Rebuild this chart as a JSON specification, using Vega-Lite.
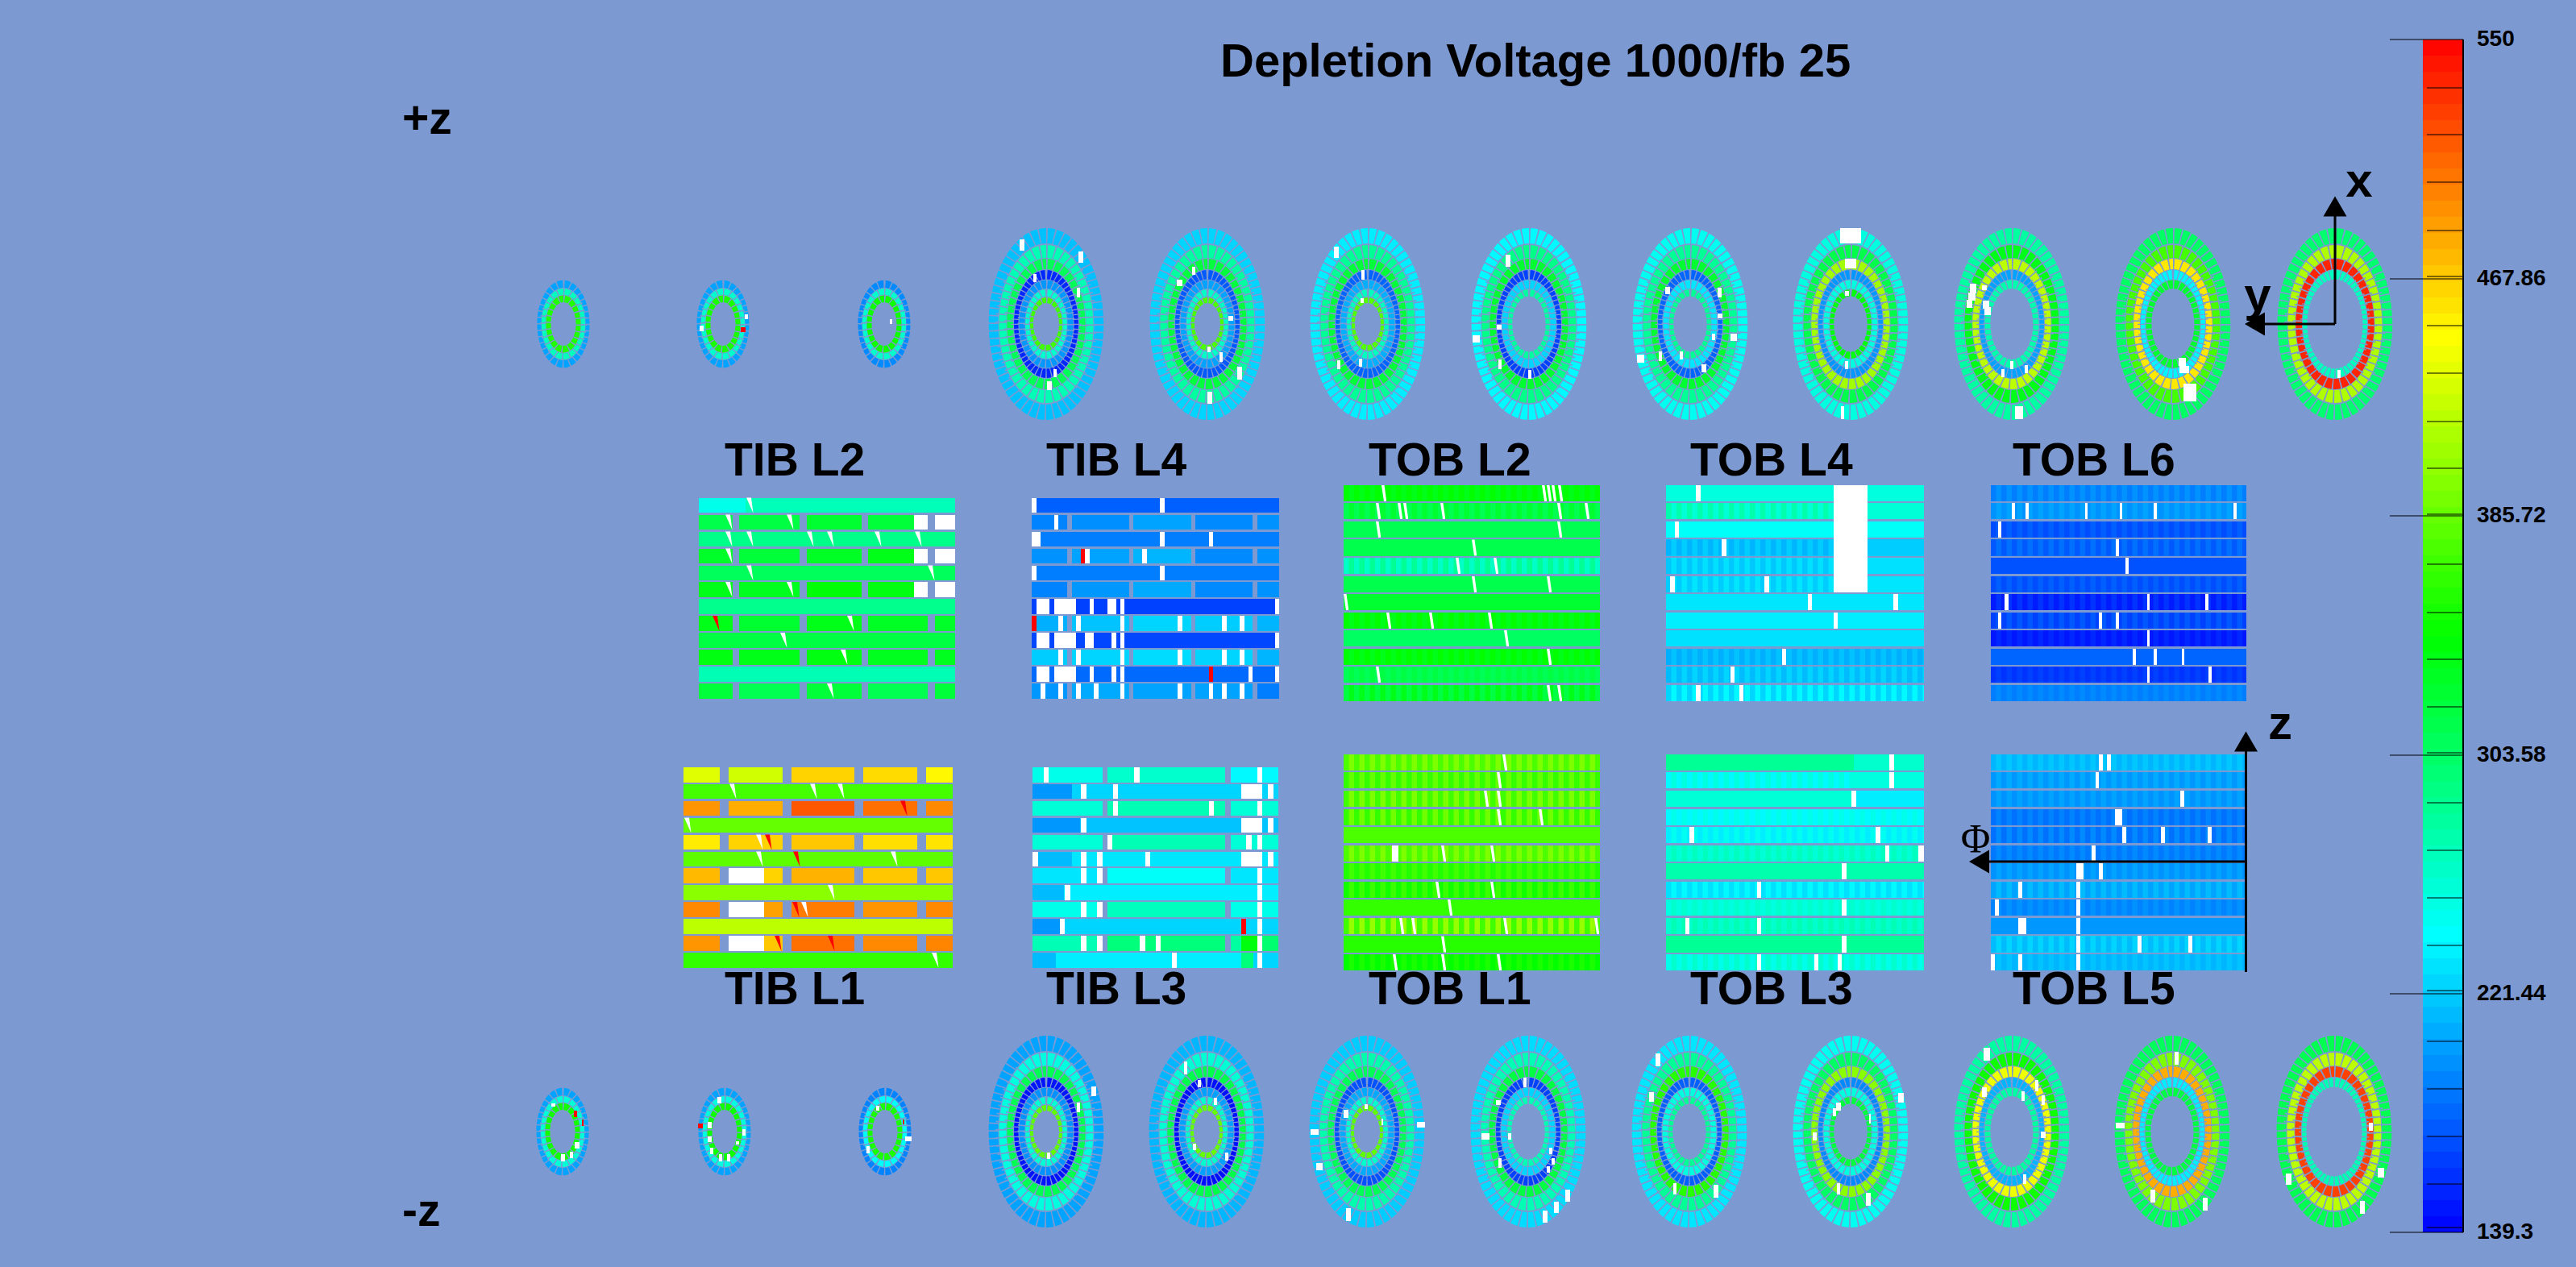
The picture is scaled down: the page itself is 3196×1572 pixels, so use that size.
{"$schema":"https://vega.github.io/schema/vega-lite/v6.json","width":3196,"height":1572,"padding":0,"autosize":{"type":"fit","contains":"padding"},"background":"#7c9ad1","config":{"view":{"stroke":null}},
"datasets":{
"bar":[{"x":3006,"x2":3056,"y":49,"y2":70,"v":547.2},{"x":3006,"x2":3056,"y":69,"y2":90,"v":541.7},{"x":3006,"x2":3056,"y":89,"y2":110,"v":536.1},{"x":3006,"x2":3056,"y":109,"y2":130,"v":530.6},{"x":3006,"x2":3056,"y":129,"y2":150,"v":525},{"x":3006,"x2":3056,"y":149,"y2":170,"v":519.5},{"x":3006,"x2":3056,"y":169,"y2":190,"v":513.9},{"x":3006,"x2":3056,"y":189,"y2":210,"v":508.4},{"x":3006,"x2":3056,"y":209,"y2":230,"v":502.8},{"x":3006,"x2":3056,"y":229,"y2":250,"v":497.3},{"x":3006,"x2":3056,"y":249,"y2":270,"v":491.7},{"x":3006,"x2":3056,"y":269,"y2":290,"v":486.2},{"x":3006,"x2":3056,"y":289,"y2":310,"v":480.6},{"x":3006,"x2":3056,"y":309,"y2":330,"v":475.1},{"x":3006,"x2":3056,"y":329,"y2":350,"v":469.5},{"x":3006,"x2":3056,"y":349,"y2":370,"v":464},{"x":3006,"x2":3056,"y":369,"y2":390,"v":458.4},{"x":3006,"x2":3056,"y":389,"y2":410,"v":452.9},{"x":3006,"x2":3056,"y":409,"y2":430,"v":447.3},{"x":3006,"x2":3056,"y":429,"y2":450,"v":441.8},{"x":3006,"x2":3056,"y":449,"y2":470,"v":436.2},{"x":3006,"x2":3056,"y":469,"y2":490,"v":430.7},{"x":3006,"x2":3056,"y":489,"y2":510,"v":425.1},{"x":3006,"x2":3056,"y":509,"y2":530,"v":419.6},{"x":3006,"x2":3056,"y":529,"y2":550,"v":414},{"x":3006,"x2":3056,"y":549,"y2":570,"v":408.5},{"x":3006,"x2":3056,"y":569,"y2":590,"v":402.9},{"x":3006,"x2":3056,"y":589,"y2":610,"v":397.4},{"x":3006,"x2":3056,"y":609,"y2":630,"v":391.8},{"x":3006,"x2":3056,"y":629,"y2":650,"v":386.3},{"x":3006,"x2":3056,"y":649,"y2":670,"v":380.7},{"x":3006,"x2":3056,"y":669,"y2":690,"v":375.2},{"x":3006,"x2":3056,"y":689,"y2":710,"v":369.6},{"x":3006,"x2":3056,"y":709,"y2":730,"v":364.1},{"x":3006,"x2":3056,"y":729,"y2":750,"v":358.5},{"x":3006,"x2":3056,"y":749,"y2":770,"v":353},{"x":3006,"x2":3056,"y":769,"y2":790,"v":347.4},{"x":3006,"x2":3056,"y":789,"y2":810,"v":341.9},{"x":3006,"x2":3056,"y":809,"y2":830,"v":336.3},{"x":3006,"x2":3056,"y":829,"y2":850,"v":330.8},{"x":3006,"x2":3056,"y":849,"y2":870,"v":325.2},{"x":3006,"x2":3056,"y":869,"y2":890,"v":319.7},{"x":3006,"x2":3056,"y":889,"y2":910,"v":314.1},{"x":3006,"x2":3056,"y":909,"y2":930,"v":308.6},{"x":3006,"x2":3056,"y":929,"y2":950,"v":303},{"x":3006,"x2":3056,"y":949,"y2":970,"v":297.5},{"x":3006,"x2":3056,"y":969,"y2":990,"v":291.9},{"x":3006,"x2":3056,"y":989,"y2":1010,"v":286.4},{"x":3006,"x2":3056,"y":1009,"y2":1030,"v":280.8},{"x":3006,"x2":3056,"y":1029,"y2":1050,"v":275.3},{"x":3006,"x2":3056,"y":1049,"y2":1070,"v":269.7},{"x":3006,"x2":3056,"y":1069,"y2":1090,"v":264.2},{"x":3006,"x2":3056,"y":1089,"y2":1110,"v":258.6},{"x":3006,"x2":3056,"y":1109,"y2":1130,"v":253.1},{"x":3006,"x2":3056,"y":1129,"y2":1150,"v":247.5},{"x":3006,"x2":3056,"y":1149,"y2":1170,"v":242},{"x":3006,"x2":3056,"y":1169,"y2":1190,"v":236.4},{"x":3006,"x2":3056,"y":1189,"y2":1210,"v":230.9},{"x":3006,"x2":3056,"y":1209,"y2":1230,"v":225.3},{"x":3006,"x2":3056,"y":1229,"y2":1250,"v":219.8},{"x":3006,"x2":3056,"y":1249,"y2":1270,"v":214.2},{"x":3006,"x2":3056,"y":1269,"y2":1290,"v":208.7},{"x":3006,"x2":3056,"y":1289,"y2":1310,"v":203.1},{"x":3006,"x2":3056,"y":1309,"y2":1330,"v":197.6},{"x":3006,"x2":3056,"y":1329,"y2":1350,"v":192},{"x":3006,"x2":3056,"y":1349,"y2":1370,"v":186.5},{"x":3006,"x2":3056,"y":1369,"y2":1390,"v":180.9},{"x":3006,"x2":3056,"y":1389,"y2":1410,"v":175.4},{"x":3006,"x2":3056,"y":1409,"y2":1430,"v":169.8},{"x":3006,"x2":3056,"y":1429,"y2":1450,"v":164.3},{"x":3006,"x2":3056,"y":1449,"y2":1470,"v":158.7},{"x":3006,"x2":3056,"y":1469,"y2":1490,"v":153.2},{"x":3006,"x2":3056,"y":1489,"y2":1510,"v":147.6},{"x":3006,"x2":3056,"y":1509,"y2":1529,"v":142.1}],
"rings":[
{"x":699,"y":402,"ring":"S1","v":205},{"x":699,"y":402,"ring":"S2","v":268},{"x":699,"y":402,"ring":"S3","v":357},
{"x":897,"y":402,"ring":"S1","v":205},{"x":897,"y":402,"ring":"S2","v":262},{"x":897,"y":402,"ring":"S3","v":355},
{"x":1097,"y":402,"ring":"S1","v":195},{"x":1097,"y":402,"ring":"S2","v":262},{"x":1097,"y":402,"ring":"S3","v":350},
{"x":698,"y":1404,"ring":"S1","v":205},{"x":698,"y":1404,"ring":"S2","v":258},{"x":698,"y":1404,"ring":"S3","v":352},
{"x":899,"y":1404,"ring":"S1","v":205},{"x":899,"y":1404,"ring":"S2","v":255},{"x":899,"y":1404,"ring":"S3","v":350},
{"x":1098,"y":1404,"ring":"S1","v":192},{"x":1098,"y":1404,"ring":"S2","v":245},{"x":1098,"y":1404,"ring":"S3","v":355},
{"x":1298,"y":402,"ring":"R1","v":217},{"x":1298,"y":402,"ring":"R2","v":272},{"x":1298,"y":402,"ring":"R3","v":310},{"x":1298,"y":402,"ring":"R4","v":155},{"x":1298,"y":402,"ring":"R5","v":200},{"x":1298,"y":402,"ring":"R6","v":262},{"x":1298,"y":402,"ring":"R7","v":370},
{"x":1498,"y":402,"ring":"R1","v":225},{"x":1498,"y":402,"ring":"R2","v":280},{"x":1498,"y":402,"ring":"R3","v":320},{"x":1498,"y":402,"ring":"R4","v":175},{"x":1498,"y":402,"ring":"R5","v":205},{"x":1498,"y":402,"ring":"R6","v":265},{"x":1498,"y":402,"ring":"R7","v":375},
{"x":1697,"y":402,"ring":"R1","v":235},{"x":1697,"y":402,"ring":"R2","v":285},{"x":1697,"y":402,"ring":"R3","v":322},{"x":1697,"y":402,"ring":"R4","v":180},{"x":1697,"y":402,"ring":"R5","v":210},{"x":1697,"y":402,"ring":"R6","v":268},{"x":1697,"y":402,"ring":"R7","v":378},
{"x":1897,"y":402,"ring":"R1","v":240},{"x":1897,"y":402,"ring":"R2","v":290},{"x":1897,"y":402,"ring":"R3","v":325},{"x":1897,"y":402,"ring":"R4","v":165},{"x":1897,"y":402,"ring":"R5","v":225},{"x":1897,"y":402,"ring":"R6","v":280},
{"x":2097,"y":402,"ring":"R1","v":248},{"x":2097,"y":402,"ring":"R2","v":285},{"x":2097,"y":402,"ring":"R3","v":325},{"x":2097,"y":402,"ring":"R4","v":180},{"x":2097,"y":402,"ring":"R5","v":232},{"x":2097,"y":402,"ring":"R6","v":285},
{"x":2296,"y":402,"ring":"R1","v":255},{"x":2296,"y":402,"ring":"R2","v":315},{"x":2296,"y":402,"ring":"R3","v":410},{"x":2296,"y":402,"ring":"R4","v":200},{"x":2296,"y":402,"ring":"R5","v":255},{"x":2296,"y":402,"ring":"R6","v":340},
{"x":2496,"y":402,"ring":"R1","v":280},{"x":2496,"y":402,"ring":"R2","v":335},{"x":2496,"y":402,"ring":"R3","v":420},{"x":2496,"y":402,"ring":"R4","v":205},{"x":2496,"y":402,"ring":"R5","v":275},
{"x":2696,"y":402,"ring":"R1","v":305},{"x":2696,"y":402,"ring":"R2","v":372},{"x":2696,"y":402,"ring":"R3","v":456},{"x":2696,"y":402,"ring":"R4","v":238},{"x":2696,"y":402,"ring":"R5","v":325},
{"x":2897,"y":402,"ring":"R1","v":300},{"x":2897,"y":402,"ring":"R2","v":415},{"x":2897,"y":402,"ring":"R3","v":535},{"x":2897,"y":402,"ring":"R4","v":268},
{"x":1298,"y":1404,"ring":"R1","v":205},{"x":1298,"y":1404,"ring":"R2","v":255},{"x":1298,"y":1404,"ring":"R3","v":312},{"x":1298,"y":1404,"ring":"R4","v":147},{"x":1298,"y":1404,"ring":"R5","v":198},{"x":1298,"y":1404,"ring":"R6","v":260},{"x":1298,"y":1404,"ring":"R7","v":383},
{"x":1497,"y":1404,"ring":"R1","v":213},{"x":1497,"y":1404,"ring":"R2","v":260},{"x":1497,"y":1404,"ring":"R3","v":315},{"x":1497,"y":1404,"ring":"R4","v":145},{"x":1497,"y":1404,"ring":"R5","v":204},{"x":1497,"y":1404,"ring":"R6","v":262},{"x":1497,"y":1404,"ring":"R7","v":385},
{"x":1696,"y":1404,"ring":"R1","v":222},{"x":1696,"y":1404,"ring":"R2","v":275},{"x":1696,"y":1404,"ring":"R3","v":310},{"x":1696,"y":1404,"ring":"R4","v":172},{"x":1696,"y":1404,"ring":"R5","v":208},{"x":1696,"y":1404,"ring":"R6","v":262},{"x":1696,"y":1404,"ring":"R7","v":383},
{"x":1896,"y":1404,"ring":"R1","v":228},{"x":1896,"y":1404,"ring":"R2","v":272},{"x":1896,"y":1404,"ring":"R3","v":318},{"x":1896,"y":1404,"ring":"R4","v":165},{"x":1896,"y":1404,"ring":"R5","v":225},{"x":1896,"y":1404,"ring":"R6","v":272},
{"x":2096,"y":1404,"ring":"R1","v":232},{"x":2096,"y":1404,"ring":"R2","v":285},{"x":2096,"y":1404,"ring":"R3","v":360},{"x":2096,"y":1404,"ring":"R4","v":178},{"x":2096,"y":1404,"ring":"R5","v":255},{"x":2096,"y":1404,"ring":"R6","v":285},
{"x":2296,"y":1404,"ring":"R1","v":248},{"x":2296,"y":1404,"ring":"R2","v":305},{"x":2296,"y":1404,"ring":"R3","v":400},{"x":2296,"y":1404,"ring":"R4","v":195},{"x":2296,"y":1404,"ring":"R5","v":255},{"x":2296,"y":1404,"ring":"R6","v":320},
{"x":2496,"y":1404,"ring":"R1","v":280},{"x":2496,"y":1404,"ring":"R2","v":350},{"x":2496,"y":1404,"ring":"R3","v":440},{"x":2496,"y":1404,"ring":"R4","v":212},{"x":2496,"y":1404,"ring":"R5","v":280},
{"x":2695,"y":1404,"ring":"R1","v":308},{"x":2695,"y":1404,"ring":"R2","v":395},{"x":2695,"y":1404,"ring":"R3","v":480},{"x":2695,"y":1404,"ring":"R4","v":235},{"x":2695,"y":1404,"ring":"R5","v":318},
{"x":2896,"y":1404,"ring":"R1","v":312},{"x":2896,"y":1404,"ring":"R2","v":420},{"x":2896,"y":1404,"ring":"R3","v":524},{"x":2896,"y":1404,"ring":"R4","v":272}
],
"cells":[
{"x":867,"x2":925,"y":618,"y2":636,"v":250},{"x":925,"x2":1185,"y":618,"y2":636,"v":270},
{"x":867,"x2":909,"y":639,"y2":657,"v":315},{"x":917,"x2":992,"y":639,"y2":657,"v":318},{"x":1001,"x2":1069,"y":639,"y2":657,"v":325},{"x":1077,"x2":1151,"y":639,"y2":657,"v":322},
{"x":867,"x2":1185,"y":660,"y2":678,"v":290},
{"x":867,"x2":909,"y":681,"y2":699,"v":328},{"x":917,"x2":992,"y":681,"y2":699,"v":322},{"x":1001,"x2":1069,"y":681,"y2":699,"v":330},{"x":1077,"x2":1151,"y":681,"y2":699,"v":335},
{"x":867,"x2":1185,"y":702,"y2":720,"v":308},
{"x":867,"x2":909,"y":722,"y2":741,"v":335},{"x":917,"x2":992,"y":722,"y2":741,"v":332},{"x":1001,"x2":1069,"y":722,"y2":741,"v":342},{"x":1077,"x2":1151,"y":722,"y2":741,"v":338},
{"x":867,"x2":1185,"y":743,"y2":762,"v":288},
{"x":867,"x2":909,"y":764,"y2":783,"v":335},{"x":917,"x2":992,"y":764,"y2":783,"v":325},{"x":1001,"x2":1069,"y":764,"y2":783,"v":335},{"x":1077,"x2":1151,"y":764,"y2":783,"v":330},{"x":1160,"x2":1185,"y":764,"y2":783,"v":328},
{"x":867,"x2":1185,"y":785,"y2":804,"v":318},
{"x":867,"x2":909,"y":806,"y2":825,"v":338},{"x":917,"x2":992,"y":806,"y2":825,"v":335},{"x":1001,"x2":1069,"y":806,"y2":825,"v":338},{"x":1077,"x2":1151,"y":806,"y2":825,"v":332},{"x":1160,"x2":1185,"y":806,"y2":825,"v":332},
{"x":867,"x2":1185,"y":827,"y2":846,"v":272},
{"x":867,"x2":909,"y":848,"y2":867,"v":322},{"x":917,"x2":992,"y":848,"y2":867,"v":312},{"x":1001,"x2":1069,"y":848,"y2":867,"v":322},{"x":1077,"x2":1151,"y":848,"y2":867,"v":312},{"x":1160,"x2":1185,"y":848,"y2":867,"v":322},

{"x":1280,"x2":1587,"y":618,"y2":636,"v":178},
{"x":1280,"x2":1324,"y":639,"y2":657,"v":192},{"x":1330,"x2":1401,"y":639,"y2":657,"v":197},{"x":1406,"x2":1478,"y":639,"y2":657,"v":205},{"x":1483,"x2":1554,"y":639,"y2":657,"v":195},{"x":1560,"x2":1587,"y":639,"y2":657,"v":198},
{"x":1280,"x2":1587,"y":660,"y2":678,"v":190},
{"x":1280,"x2":1324,"y":681,"y2":699,"v":198},{"x":1330,"x2":1401,"y":681,"y2":699,"v":205},{"x":1406,"x2":1478,"y":681,"y2":699,"v":212},{"x":1483,"x2":1554,"y":681,"y2":699,"v":195},{"x":1560,"x2":1587,"y":681,"y2":699,"v":198},
{"x":1280,"x2":1587,"y":702,"y2":720,"v":190},
{"x":1280,"x2":1324,"y":722,"y2":741,"v":192},{"x":1330,"x2":1401,"y":722,"y2":741,"v":200},{"x":1406,"x2":1478,"y":722,"y2":741,"v":208},{"x":1483,"x2":1554,"y":722,"y2":741,"v":195},{"x":1560,"x2":1587,"y":722,"y2":741,"v":198},
{"x":1280,"x2":1587,"y":743,"y2":762,"v":165},
{"x":1280,"x2":1324,"y":764,"y2":783,"v":210},{"x":1330,"x2":1401,"y":764,"y2":783,"v":218},{"x":1406,"x2":1478,"y":764,"y2":783,"v":225},{"x":1483,"x2":1554,"y":764,"y2":783,"v":222},{"x":1560,"x2":1587,"y":764,"y2":783,"v":212},
{"x":1280,"x2":1587,"y":785,"y2":804,"v":168},
{"x":1280,"x2":1324,"y":806,"y2":825,"v":222},{"x":1330,"x2":1401,"y":806,"y2":825,"v":225},{"x":1406,"x2":1478,"y":806,"y2":825,"v":228},{"x":1483,"x2":1554,"y":806,"y2":825,"v":225},{"x":1560,"x2":1587,"y":806,"y2":825,"v":212},
{"x":1280,"x2":1587,"y":827,"y2":846,"v":182},
{"x":1280,"x2":1324,"y":848,"y2":867,"v":200},{"x":1330,"x2":1401,"y":848,"y2":867,"v":208},{"x":1406,"x2":1478,"y":848,"y2":867,"v":205},{"x":1483,"x2":1554,"y":848,"y2":867,"v":205},{"x":1560,"x2":1587,"y":848,"y2":867,"v":190},

{"x":848,"x2":893,"y":952,"y2":971,"v":435},{"x":904,"x2":971,"y":952,"y2":971,"v":428},{"x":982,"x2":1060,"y":952,"y2":971,"v":465},{"x":1071,"x2":1138,"y":952,"y2":971,"v":462},{"x":1149,"x2":1182,"y":952,"y2":971,"v":450},
{"x":848,"x2":1182,"y":973,"y2":991,"v":372},
{"x":848,"x2":893,"y":994,"y2":1012,"v":490},{"x":904,"x2":971,"y":994,"y2":1012,"v":480},{"x":982,"x2":1060,"y":994,"y2":1012,"v":515},{"x":1071,"x2":1138,"y":994,"y2":1012,"v":505},{"x":1149,"x2":1182,"y":994,"y2":1012,"v":495},
{"x":848,"x2":1182,"y":1015,"y2":1033,"v":385},
{"x":848,"x2":893,"y":1036,"y2":1054,"v":455},{"x":904,"x2":971,"y":1036,"y2":1054,"v":465},{"x":982,"x2":1060,"y":1036,"y2":1054,"v":470},{"x":1071,"x2":1138,"y":1036,"y2":1054,"v":460},{"x":1149,"x2":1182,"y":1036,"y2":1054,"v":458},
{"x":848,"x2":1182,"y":1057,"y2":1075,"v":382},
{"x":848,"x2":893,"y":1077,"y2":1096,"v":475},{"x":948,"x2":971,"y":1077,"y2":1096,"v":465},{"x":982,"x2":1060,"y":1077,"y2":1096,"v":478},{"x":1071,"x2":1138,"y":1077,"y2":1096,"v":470},{"x":1149,"x2":1182,"y":1077,"y2":1096,"v":470},
{"x":848,"x2":1182,"y":1098,"y2":1117,"v":400},
{"x":848,"x2":893,"y":1119,"y2":1138,"v":495},{"x":948,"x2":971,"y":1119,"y2":1138,"v":485},{"x":982,"x2":1060,"y":1119,"y2":1138,"v":500},{"x":1071,"x2":1138,"y":1119,"y2":1138,"v":490},{"x":1149,"x2":1182,"y":1119,"y2":1138,"v":495},
{"x":848,"x2":1182,"y":1140,"y2":1159,"v":420},
{"x":848,"x2":893,"y":1161,"y2":1180,"v":490},{"x":948,"x2":971,"y":1161,"y2":1180,"v":470},{"x":982,"x2":1060,"y":1161,"y2":1180,"v":505},{"x":1071,"x2":1138,"y":1161,"y2":1180,"v":495},{"x":1149,"x2":1182,"y":1161,"y2":1180,"v":497},
{"x":848,"x2":1182,"y":1182,"y2":1201,"v":365},

{"x":1281,"x2":1368,"y":952,"y2":971,"v":250},{"x":1374,"x2":1520,"y":952,"y2":971,"v":262},{"x":1527,"x2":1586,"y":952,"y2":971,"v":240},
{"x":1281,"x2":1330,"y":973,"y2":991,"v":200},{"x":1330,"x2":1586,"y":973,"y2":991,"v":225},
{"x":1281,"x2":1368,"y":994,"y2":1012,"v":258},{"x":1374,"x2":1520,"y":994,"y2":1012,"v":272},{"x":1527,"x2":1586,"y":994,"y2":1012,"v":258},
{"x":1281,"x2":1340,"y":1015,"y2":1033,"v":200},{"x":1340,"x2":1586,"y":1015,"y2":1033,"v":218},
{"x":1281,"x2":1368,"y":1036,"y2":1054,"v":258},{"x":1374,"x2":1520,"y":1036,"y2":1054,"v":272},{"x":1527,"x2":1586,"y":1036,"y2":1054,"v":258},
{"x":1281,"x2":1330,"y":1057,"y2":1075,"v":215},{"x":1330,"x2":1586,"y":1057,"y2":1075,"v":232},
{"x":1281,"x2":1368,"y":1077,"y2":1096,"v":232},{"x":1374,"x2":1520,"y":1077,"y2":1096,"v":245},{"x":1527,"x2":1586,"y":1077,"y2":1096,"v":232},
{"x":1281,"x2":1320,"y":1098,"y2":1117,"v":215},{"x":1320,"x2":1586,"y":1098,"y2":1117,"v":235},
{"x":1281,"x2":1368,"y":1119,"y2":1138,"v":250},{"x":1374,"x2":1520,"y":1119,"y2":1138,"v":268},{"x":1527,"x2":1586,"y":1119,"y2":1138,"v":250},
{"x":1281,"x2":1315,"y":1140,"y2":1159,"v":200},{"x":1315,"x2":1586,"y":1140,"y2":1159,"v":225},
{"x":1281,"x2":1368,"y":1161,"y2":1180,"v":272},{"x":1374,"x2":1520,"y":1161,"y2":1180,"v":295},{"x":1527,"x2":1540,"y":1161,"y2":1180,"v":280},{"x":1540,"x2":1560,"y":1161,"y2":1180,"v":340},{"x":1560,"x2":1586,"y":1161,"y2":1180,"v":300},
{"x":1281,"x2":1310,"y":1182,"y2":1201,"v":215},{"x":1310,"x2":1540,"y":1182,"y2":1201,"v":235},{"x":1540,"x2":1555,"y":1182,"y2":1201,"v":295},{"x":1555,"x2":1586,"y":1182,"y2":1201,"v":225},

{"x":1667,"x2":1985,"y":602,"y2":622,"v":335},{"x":1667,"x2":1985,"y":624,"y2":644,"v":325},{"x":1667,"x2":1985,"y":647,"y2":667,"v":312},{"x":1667,"x2":1985,"y":669,"y2":690,"v":314},{"x":1667,"x2":1985,"y":692,"y2":712,"v":285},{"x":1667,"x2":1985,"y":715,"y2":735,"v":314},{"x":1667,"x2":1985,"y":737,"y2":757,"v":325},{"x":1667,"x2":1985,"y":760,"y2":780,"v":335},{"x":1667,"x2":1985,"y":782,"y2":802,"v":306},{"x":1667,"x2":1985,"y":805,"y2":825,"v":335},{"x":1667,"x2":1985,"y":827,"y2":847,"v":318},{"x":1667,"x2":1985,"y":850,"y2":870,"v":335},

{"x":2067,"x2":2387,"y":602,"y2":622,"v":255},{"x":2067,"x2":2387,"y":624,"y2":644,"v":258},{"x":2067,"x2":2387,"y":647,"y2":667,"v":245},{"x":2067,"x2":2387,"y":669,"y2":690,"v":222},{"x":2067,"x2":2387,"y":692,"y2":712,"v":230},{"x":2067,"x2":2387,"y":715,"y2":735,"v":232},{"x":2067,"x2":2387,"y":737,"y2":757,"v":232},{"x":2067,"x2":2387,"y":760,"y2":780,"v":235},{"x":2067,"x2":2387,"y":782,"y2":802,"v":230},{"x":2067,"x2":2387,"y":805,"y2":825,"v":218},{"x":2067,"x2":2387,"y":827,"y2":847,"v":225},{"x":2067,"x2":2387,"y":850,"y2":870,"v":240},

{"x":2470,"x2":2787,"y":602,"y2":622,"v":198},{"x":2470,"x2":2787,"y":624,"y2":644,"v":205},{"x":2470,"x2":2787,"y":647,"y2":667,"v":178},{"x":2470,"x2":2787,"y":669,"y2":690,"v":185},{"x":2470,"x2":2787,"y":692,"y2":712,"v":172},{"x":2470,"x2":2787,"y":715,"y2":735,"v":178},{"x":2470,"x2":2787,"y":737,"y2":757,"v":160},{"x":2470,"x2":2787,"y":760,"y2":780,"v":175},{"x":2470,"x2":2787,"y":782,"y2":802,"v":155},{"x":2470,"x2":2787,"y":805,"y2":825,"v":180},{"x":2470,"x2":2787,"y":827,"y2":847,"v":165},{"x":2470,"x2":2787,"y":850,"y2":870,"v":195},

{"x":1667,"x2":1985,"y":936,"y2":956,"v":395},{"x":1667,"x2":1985,"y":958,"y2":978,"v":385},{"x":1667,"x2":1985,"y":981,"y2":1001,"v":395},{"x":1667,"x2":1985,"y":1004,"y2":1024,"v":390},{"x":1667,"x2":1985,"y":1026,"y2":1046,"v":375},{"x":1667,"x2":1985,"y":1049,"y2":1069,"v":395},{"x":1667,"x2":1985,"y":1071,"y2":1091,"v":370},{"x":1667,"x2":1985,"y":1094,"y2":1114,"v":368},{"x":1667,"x2":1985,"y":1116,"y2":1136,"v":365},{"x":1667,"x2":1985,"y":1139,"y2":1159,"v":405},{"x":1667,"x2":1985,"y":1161,"y2":1182,"v":360},{"x":1667,"x2":1985,"y":1184,"y2":1204,"v":355},

{"x":2067,"x2":2300,"y":936,"y2":956,"v":285},{"x":2300,"x2":2387,"y":936,"y2":956,"v":262},{"x":2067,"x2":2387,"y":958,"y2":978,"v":255},{"x":2067,"x2":2303,"y":981,"y2":1001,"v":258},{"x":2303,"x2":2387,"y":981,"y2":1001,"v":235},{"x":2067,"x2":2387,"y":1004,"y2":1024,"v":250},{"x":2067,"x2":2387,"y":1026,"y2":1046,"v":248},{"x":2067,"x2":2387,"y":1049,"y2":1069,"v":268},{"x":2067,"x2":2387,"y":1071,"y2":1091,"v":275},{"x":2067,"x2":2387,"y":1094,"y2":1114,"v":240},{"x":2067,"x2":2387,"y":1116,"y2":1136,"v":262},{"x":2067,"x2":2387,"y":1139,"y2":1159,"v":272},{"x":2067,"x2":2387,"y":1161,"y2":1182,"v":285},{"x":2067,"x2":2387,"y":1184,"y2":1204,"v":262},

{"x":2470,"x2":2785,"y":936,"y2":956,"v":220},{"x":2470,"x2":2785,"y":958,"y2":978,"v":208},{"x":2470,"x2":2785,"y":981,"y2":1001,"v":205},{"x":2470,"x2":2785,"y":1004,"y2":1024,"v":192},{"x":2470,"x2":2785,"y":1026,"y2":1046,"v":195},{"x":2470,"x2":2785,"y":1049,"y2":1069,"v":195},{"x":2470,"x2":2785,"y":1071,"y2":1091,"v":205},{"x":2470,"x2":2785,"y":1094,"y2":1114,"v":215},{"x":2470,"x2":2785,"y":1116,"y2":1136,"v":198},{"x":2470,"x2":2785,"y":1139,"y2":1159,"v":200},{"x":2470,"x2":2785,"y":1161,"y2":1182,"v":225},{"x":2470,"x2":2785,"y":1184,"y2":1204,"v":218}
],
"stripes":[
{"x":1667,"x2":1985,"y":612,"v":345},{"x":1667,"x2":1985,"y":634,"v":312},{"x":1667,"x2":1985,"y":702,"v":265},{"x":1667,"x2":1985,"y":770,"v":345},{"x":1667,"x2":1985,"y":815,"v":345},{"x":1667,"x2":1985,"y":837,"v":310},{"x":1667,"x2":1985,"y":860,"v":318},
{"x":2067,"x2":2275,"y":634,"v":275},{"x":2067,"x2":2275,"y":679.5,"v":212},{"x":2067,"x2":2275,"y":702,"v":220},{"x":2067,"x2":2275,"y":725,"v":222},{"x":2067,"x2":2387,"y":815,"v":210},{"x":2067,"x2":2387,"y":837,"v":215},{"x":2067,"x2":2387,"y":860,"v":225},
{"x":2470,"x2":2787,"y":612,"v":190},{"x":2470,"x2":2787,"y":634,"v":198},{"x":2470,"x2":2787,"y":657,"v":170},{"x":2470,"x2":2787,"y":679.5,"v":175},{"x":2470,"x2":2787,"y":725,"v":170},{"x":2470,"x2":2787,"y":747,"v":150},{"x":2470,"x2":2787,"y":770,"v":165},{"x":2470,"x2":2787,"y":792,"v":148},{"x":2470,"x2":2787,"y":837,"v":160},{"x":2470,"x2":2787,"y":860,"v":190},
{"x":1667,"x2":1985,"y":946,"v":375},{"x":1667,"x2":1985,"y":968,"v":365},{"x":1667,"x2":1985,"y":991,"v":370},{"x":1667,"x2":1985,"y":1014,"v":365},{"x":1667,"x2":1985,"y":1059,"v":375},{"x":1667,"x2":1985,"y":1081,"v":358},{"x":1667,"x2":1985,"y":1104,"v":352},{"x":1667,"x2":1985,"y":1149,"v":370},{"x":1667,"x2":1985,"y":1194,"v":345},
{"x":2067,"x2":2300,"y":968,"v":240},{"x":2067,"x2":2387,"y":1014,"v":240},{"x":2067,"x2":2387,"y":1036,"v":235},{"x":2067,"x2":2387,"y":1059,"v":258},{"x":2067,"x2":2387,"y":1104,"v":230},{"x":2067,"x2":2387,"y":1126,"v":255},{"x":2067,"x2":2387,"y":1149,"v":262},{"x":2067,"x2":2387,"y":1194,"v":250},
{"x":2470,"x2":2785,"y":946,"v":212},{"x":2470,"x2":2785,"y":968,"v":200},{"x":2470,"x2":2785,"y":991,"v":198},{"x":2470,"x2":2785,"y":1014,"v":185},{"x":2470,"x2":2785,"y":1036,"v":185},{"x":2470,"x2":2785,"y":1059,"v":188},{"x":2470,"x2":2785,"y":1081,"v":198},{"x":2470,"x2":2785,"y":1104,"v":205},{"x":2470,"x2":2785,"y":1126,"v":192},{"x":2470,"x2":2785,"y":1171.5,"v":215},{"x":2470,"x2":2785,"y":1194,"v":212}
],
"whites":[
{"x":1134,"x2":1151,"y":639,"y2":657},{"x":1160,"x2":1185,"y":639,"y2":657},{"x":1134,"x2":1151,"y":681,"y2":699},{"x":1160,"x2":1185,"y":681,"y2":699},{"x":1134,"x2":1151,"y":722,"y2":741},{"x":1160,"x2":1185,"y":722,"y2":741},
{"x":1280,"x2":1286,"y":618,"y2":636},{"x":1439,"x2":1445,"y":618,"y2":636},{"x":1308,"x2":1313,"y":639,"y2":657},{"x":1280,"x2":1291,"y":660,"y2":678},{"x":1439,"x2":1445,"y":660,"y2":678},{"x":1500,"x2":1505,"y":660,"y2":678},{"x":1346,"x2":1352,"y":681,"y2":699},{"x":1417,"x2":1423,"y":681,"y2":699},{"x":1280,"x2":1286,"y":702,"y2":720},{"x":1439,"x2":1445,"y":702,"y2":720},
{"x":1286,"x2":1302,"y":743,"y2":762},{"x":1308,"x2":1335,"y":743,"y2":762},{"x":1352,"x2":1357,"y":743,"y2":762},{"x":1374,"x2":1385,"y":743,"y2":762},{"x":1390,"x2":1395,"y":743,"y2":762},{"x":1582,"x2":1587,"y":743,"y2":762},
{"x":1313,"x2":1319,"y":764,"y2":783},{"x":1335,"x2":1341,"y":764,"y2":783},{"x":1390,"x2":1395,"y":764,"y2":783},{"x":1461,"x2":1467,"y":764,"y2":783},{"x":1516,"x2":1522,"y":764,"y2":783},{"x":1538,"x2":1544,"y":764,"y2":783},
{"x":1286,"x2":1302,"y":785,"y2":804},{"x":1308,"x2":1335,"y":785,"y2":804},{"x":1346,"x2":1357,"y":785,"y2":804},{"x":1379,"x2":1385,"y":785,"y2":804},{"x":1390,"x2":1395,"y":785,"y2":804},{"x":1582,"x2":1587,"y":785,"y2":804},
{"x":1313,"x2":1319,"y":806,"y2":825},{"x":1335,"x2":1341,"y":806,"y2":825},{"x":1390,"x2":1395,"y":806,"y2":825},{"x":1461,"x2":1467,"y":806,"y2":825},{"x":1516,"x2":1522,"y":806,"y2":825},{"x":1538,"x2":1544,"y":806,"y2":825},
{"x":1286,"x2":1302,"y":827,"y2":846},{"x":1308,"x2":1335,"y":827,"y2":846},{"x":1352,"x2":1357,"y":827,"y2":846},{"x":1379,"x2":1385,"y":827,"y2":846},{"x":1390,"x2":1395,"y":827,"y2":846},{"x":1549,"x2":1554,"y":827,"y2":846},{"x":1582,"x2":1587,"y":827,"y2":846},
{"x":1291,"x2":1297,"y":848,"y2":867},{"x":1313,"x2":1319,"y":848,"y2":867},{"x":1335,"x2":1341,"y":848,"y2":867},{"x":1357,"x2":1363,"y":848,"y2":867},{"x":1390,"x2":1395,"y":848,"y2":867},{"x":1461,"x2":1467,"y":848,"y2":867},{"x":1500,"x2":1505,"y":848,"y2":867},{"x":1516,"x2":1522,"y":848,"y2":867},{"x":1538,"x2":1544,"y":848,"y2":867},
{"x":904,"x2":948,"y":1077,"y2":1096},{"x":904,"x2":948,"y":1119,"y2":1138},{"x":904,"x2":948,"y":1161,"y2":1180},
{"x":1295,"x2":1301,"y":952,"y2":971},{"x":1407,"x2":1414,"y":952,"y2":971},{"x":1560,"x2":1566,"y":952,"y2":971},
{"x":1341,"x2":1348,"y":973,"y2":991},{"x":1381,"x2":1387,"y":973,"y2":991},{"x":1540,"x2":1566,"y":973,"y2":991},{"x":1573,"x2":1580,"y":973,"y2":991},
{"x":1381,"x2":1387,"y":994,"y2":1012},{"x":1500,"x2":1506,"y":994,"y2":1012},{"x":1560,"x2":1566,"y":994,"y2":1012},
{"x":1341,"x2":1348,"y":1015,"y2":1033},{"x":1540,"x2":1566,"y":1015,"y2":1033},{"x":1573,"x2":1580,"y":1015,"y2":1033},
{"x":1374,"x2":1380,"y":1036,"y2":1054},{"x":1546,"x2":1553,"y":1036,"y2":1054},{"x":1560,"x2":1566,"y":1036,"y2":1054},
{"x":1281,"x2":1288,"y":1057,"y2":1075},{"x":1341,"x2":1348,"y":1057,"y2":1075},{"x":1361,"x2":1368,"y":1057,"y2":1075},{"x":1421,"x2":1427,"y":1057,"y2":1075},{"x":1540,"x2":1566,"y":1057,"y2":1075},{"x":1573,"x2":1580,"y":1057,"y2":1075},
{"x":1341,"x2":1348,"y":1077,"y2":1096},{"x":1361,"x2":1368,"y":1077,"y2":1096},{"x":1560,"x2":1566,"y":1077,"y2":1096},
{"x":1321,"x2":1328,"y":1098,"y2":1117},{"x":1560,"x2":1566,"y":1098,"y2":1117},
{"x":1341,"x2":1348,"y":1119,"y2":1138},{"x":1361,"x2":1368,"y":1119,"y2":1138},{"x":1560,"x2":1566,"y":1119,"y2":1138},
{"x":1315,"x2":1321,"y":1140,"y2":1159},{"x":1560,"x2":1566,"y":1140,"y2":1159},
{"x":1341,"x2":1348,"y":1161,"y2":1180},{"x":1361,"x2":1368,"y":1161,"y2":1180},{"x":1414,"x2":1421,"y":1161,"y2":1180},{"x":1434,"x2":1440,"y":1161,"y2":1180},{"x":1560,"x2":1566,"y":1161,"y2":1180},
{"x":1454,"x2":1460,"y":1182,"y2":1201},{"x":1560,"x2":1566,"y":1182,"y2":1201},
{"x":2275,"x2":2317,"y":602,"y2":735},{"x":2104,"x2":2110,"y":602,"y2":622},{"x":2078,"x2":2083,"y":647,"y2":667},{"x":2136,"x2":2142,"y":669,"y2":690},{"x":2072,"x2":2078,"y":715,"y2":735},{"x":2189,"x2":2195,"y":715,"y2":735},{"x":2243,"x2":2248,"y":737,"y2":757},{"x":2349,"x2":2355,"y":737,"y2":757},{"x":2275,"x2":2280,"y":760,"y2":780},{"x":2211,"x2":2216,"y":805,"y2":825},{"x":2147,"x2":2152,"y":827,"y2":847},{"x":2104,"x2":2110,"y":850,"y2":870},{"x":2158,"x2":2163,"y":850,"y2":870},
{"x":2496,"x2":2500,"y":624,"y2":644},{"x":2513,"x2":2517,"y":624,"y2":644},{"x":2587,"x2":2590,"y":624,"y2":644},{"x":2630,"x2":2633,"y":624,"y2":644},{"x":2672,"x2":2676,"y":624,"y2":644},{"x":2771,"x2":2775,"y":624,"y2":644},{"x":2479,"x2":2483,"y":647,"y2":667},{"x":2625,"x2":2629,"y":669,"y2":690},{"x":2637,"x2":2641,"y":692,"y2":712},{"x":2487,"x2":2492,"y":737,"y2":757},{"x":2664,"x2":2667,"y":737,"y2":757},{"x":2736,"x2":2740,"y":737,"y2":757},{"x":2479,"x2":2483,"y":760,"y2":780},{"x":2604,"x2":2608,"y":760,"y2":780},{"x":2625,"x2":2629,"y":760,"y2":780},{"x":2664,"x2":2667,"y":782,"y2":802},{"x":2646,"x2":2650,"y":805,"y2":825},{"x":2672,"x2":2676,"y":805,"y2":825},{"x":2707,"x2":2710,"y":805,"y2":825},{"x":2664,"x2":2667,"y":827,"y2":847},{"x":2740,"x2":2744,"y":827,"y2":847},
{"x":1727,"x2":1735,"y":1049,"y2":1069},
{"x":2344,"x2":2350,"y":936,"y2":956},{"x":2344,"x2":2350,"y":958,"y2":978},{"x":2297,"x2":2303,"y":981,"y2":1001},{"x":2096,"x2":2102,"y":1026,"y2":1046},{"x":2327,"x2":2333,"y":1026,"y2":1046},{"x":2339,"x2":2344,"y":1049,"y2":1069},{"x":2380,"x2":2387,"y":1049,"y2":1069},{"x":2285,"x2":2291,"y":1071,"y2":1091},{"x":2180,"x2":2185,"y":1094,"y2":1114},{"x":2285,"x2":2291,"y":1116,"y2":1136},{"x":2091,"x2":2096,"y":1139,"y2":1159},{"x":2180,"x2":2185,"y":1139,"y2":1159},{"x":2285,"x2":2291,"y":1161,"y2":1182},{"x":2180,"x2":2185,"y":1184,"y2":1204},{"x":2251,"x2":2256,"y":1184,"y2":1204},{"x":2280,"x2":2285,"y":1184,"y2":1204},
{"x":2604,"x2":2609,"y":936,"y2":956},{"x":2614,"x2":2619,"y":936,"y2":956},{"x":2600,"x2":2604,"y":958,"y2":978},{"x":2705,"x2":2710,"y":981,"y2":1001},{"x":2624,"x2":2633,"y":1004,"y2":1024},{"x":2633,"x2":2638,"y":1026,"y2":1046},{"x":2681,"x2":2686,"y":1026,"y2":1046},{"x":2739,"x2":2744,"y":1026,"y2":1046},{"x":2595,"x2":2600,"y":1049,"y2":1069},{"x":2576,"x2":2585,"y":1071,"y2":1091},{"x":2604,"x2":2609,"y":1071,"y2":1091},{"x":2504,"x2":2509,"y":1094,"y2":1114},{"x":2576,"x2":2581,"y":1094,"y2":1114},{"x":2475,"x2":2480,"y":1116,"y2":1136},{"x":2576,"x2":2581,"y":1116,"y2":1136},{"x":2504,"x2":2514,"y":1139,"y2":1159},{"x":2576,"x2":2581,"y":1139,"y2":1159},{"x":2576,"x2":2581,"y":1161,"y2":1182},{"x":2652,"x2":2657,"y":1161,"y2":1182},{"x":2715,"x2":2720,"y":1161,"y2":1182},{"x":2470,"x2":2475,"y":1184,"y2":1204},{"x":2504,"x2":2509,"y":1184,"y2":1204},{"x":2576,"x2":2581,"y":1184,"y2":1204},

{"x":1265,"x2":1271,"y":297,"y2":311},{"x":1338,"x2":1344,"y":312,"y2":326},{"x":1282,"x2":1286,"y":340,"y2":350},{"x":1336,"x2":1340,"y":357,"y2":369},{"x":1307,"x2":1311,"y":458,"y2":468},{"x":1299,"x2":1305,"y":473,"y2":484},
{"x":1479,"x2":1483,"y":331,"y2":341},{"x":1460,"x2":1467,"y":347,"y2":355},{"x":1524,"x2":1530,"y":392,"y2":398},{"x":1513,"x2":1517,"y":437,"y2":449},{"x":1535,"x2":1541,"y":455,"y2":471},{"x":1498,"x2":1504,"y":486,"y2":501},{"x":1498,"x2":1502,"y":430,"y2":437},
{"x":1655,"x2":1661,"y":306,"y2":320},{"x":1689,"x2":1693,"y":335,"y2":347},{"x":1688,"x2":1692,"y":370,"y2":376},{"x":1686,"x2":1690,"y":445,"y2":455},{"x":1659,"x2":1663,"y":447,"y2":458},
{"x":1868,"x2":1874,"y":316,"y2":331},{"x":1857,"x2":1863,"y":403,"y2":409},{"x":1827,"x2":1836,"y":416,"y2":425},{"x":1859,"x2":1863,"y":446,"y2":458},{"x":1896,"x2":1900,"y":459,"y2":470},
{"x":2066,"x2":2072,"y":356,"y2":365},{"x":2131,"x2":2136,"y":357,"y2":369},{"x":2131,"x2":2137,"y":389,"y2":395},{"x":2147,"x2":2155,"y":414,"y2":423},{"x":2124,"x2":2128,"y":414,"y2":422},{"x":2031,"x2":2040,"y":440,"y2":450},{"x":2058,"x2":2062,"y":436,"y2":448},{"x":2084,"x2":2088,"y":436,"y2":446},{"x":2111,"x2":2117,"y":452,"y2":462},
{"x":2283,"x2":2309,"y":283,"y2":302},{"x":2289,"x2":2303,"y":321,"y2":333},{"x":2289,"x2":2294,"y":361,"y2":367},{"x":2289,"x2":2293,"y":448,"y2":458},{"x":2284,"x2":2288,"y":504,"y2":520},
{"x":2444,"x2":2452,"y":352,"y2":364},{"x":2442,"x2":2451,"y":363,"y2":373},{"x":2440,"x2":2447,"y":372,"y2":382},{"x":2460,"x2":2468,"y":373,"y2":383},{"x":2462,"x2":2470,"y":381,"y2":391},{"x":2459,"x2":2465,"y":354,"y2":360},{"x":2494,"x2":2498,"y":448,"y2":458},{"x":2483,"x2":2487,"y":458,"y2":468},{"x":2512,"x2":2516,"y":453,"y2":463},{"x":2500,"x2":2510,"y":504,"y2":520},
{"x":2703,"x2":2712,"y":444,"y2":454},{"x":2704,"x2":2716,"y":454,"y2":463},{"x":2709,"x2":2725,"y":476,"y2":498},
{"x":2900,"x2":2904,"y":459,"y2":469},
{"x":868,"x2":873,"y":404,"y2":411},{"x":924,"x2":928,"y":390,"y2":396},{"x":1104,"x2":1107,"y":396,"y2":402},

{"x":1354,"x2":1360,"y":1348,"y2":1360},{"x":1336,"x2":1340,"y":1368,"y2":1380},{"x":1299,"x2":1303,"y":1430,"y2":1438},
{"x":1469,"x2":1473,"y":1317,"y2":1333},{"x":1486,"x2":1490,"y":1340,"y2":1349},{"x":1506,"x2":1510,"y":1362,"y2":1371},{"x":1480,"x2":1484,"y":1419,"y2":1427},{"x":1520,"x2":1524,"y":1430,"y2":1440},
{"x":1667,"x2":1673,"y":1377,"y2":1387},{"x":1693,"x2":1697,"y":1370,"y2":1376},{"x":1714,"x2":1716,"y":1388,"y2":1396},{"x":1758,"x2":1768,"y":1392,"y2":1399},{"x":1626,"x2":1636,"y":1401,"y2":1408},{"x":1633,"x2":1641,"y":1443,"y2":1452},{"x":1670,"x2":1676,"y":1499,"y2":1515},
{"x":1890,"x2":1894,"y":1337,"y2":1349},{"x":1856,"x2":1862,"y":1365,"y2":1371},{"x":1838,"x2":1848,"y":1406,"y2":1414},{"x":1871,"x2":1875,"y":1406,"y2":1414},{"x":1922,"x2":1926,"y":1424,"y2":1432},{"x":1925,"x2":1929,"y":1437,"y2":1445},{"x":1919,"x2":1923,"y":1447,"y2":1455},{"x":1859,"x2":1863,"y":1437,"y2":1449},{"x":1942,"x2":1948,"y":1476,"y2":1491},{"x":1928,"x2":1934,"y":1491,"y2":1505},{"x":1914,"x2":1920,"y":1502,"y2":1517},
{"x":2054,"x2":2060,"y":1307,"y2":1323},{"x":2046,"x2":2052,"y":1355,"y2":1367},{"x":2076,"x2":2080,"y":1468,"y2":1482},{"x":2126,"x2":2132,"y":1470,"y2":1486},
{"x":2355,"x2":2362,"y":1356,"y2":1368},{"x":2278,"x2":2284,"y":1368,"y2":1378},{"x":2274,"x2":2278,"y":1375,"y2":1385},{"x":2319,"x2":2321,"y":1382,"y2":1394},{"x":2249,"x2":2254,"y":1405,"y2":1415},{"x":2279,"x2":2283,"y":1468,"y2":1482},{"x":2315,"x2":2321,"y":1480,"y2":1496},
{"x":2461,"x2":2469,"y":1300,"y2":1316},{"x":2459,"x2":2465,"y":1349,"y2":1361},{"x":2525,"x2":2529,"y":1340,"y2":1354},{"x":2508,"x2":2512,"y":1354,"y2":1366},{"x":2533,"x2":2537,"y":1359,"y2":1371},{"x":2532,"x2":2538,"y":1404,"y2":1412},{"x":2510,"x2":2514,"y":1457,"y2":1469},
{"x":2698,"x2":2703,"y":1305,"y2":1321},{"x":2625,"x2":2636,"y":1393,"y2":1400},{"x":2668,"x2":2674,"y":1476,"y2":1492},{"x":2733,"x2":2739,"y":1486,"y2":1502},
{"x":2836,"x2":2843,"y":1456,"y2":1470},{"x":2928,"x2":2934,"y":1490,"y2":1506},{"x":2950,"x2":2958,"y":1449,"y2":1461},{"x":2939,"x2":2944,"y":1393,"y2":1403},
{"x":684,"x2":689,"y":1369,"y2":1373},{"x":713,"x2":719,"y":1417,"y2":1425},{"x":696,"x2":701,"y":1432,"y2":1441},{"x":707,"x2":711,"y":1429,"y2":1437},
{"x":890,"x2":895,"y":1361,"y2":1369},{"x":878,"x2":883,"y":1392,"y2":1400},{"x":878,"x2":883,"y":1410,"y2":1417},{"x":881,"x2":885,"y":1424,"y2":1432},{"x":892,"x2":896,"y":1432,"y2":1441},{"x":902,"x2":906,"y":1432,"y2":1441},{"x":921,"x2":925,"y":1401,"y2":1409},{"x":913,"x2":917,"y":1416,"y2":1420},
{"x":1087,"x2":1091,"y":1372,"y2":1378},{"x":1075,"x2":1079,"y":1422,"y2":1431},{"x":1123,"x2":1131,"y":1410,"y2":1416}
],
"reds":[
{"x":1341,"x2":1346,"y":681,"y2":699,"v":550},{"x":1500,"x2":1505,"y":827,"y2":846,"v":550},{"x":1280,"x2":1286,"y":764,"y2":783,"v":550},{"x":1540,"x2":1546,"y":1140,"y2":1159,"v":550},
{"x":712,"x2":716,"y":1378,"y2":1386,"v":550},{"x":722,"x2":724,"y":1389,"y2":1397,"v":550},{"x":866,"x2":872,"y":1394,"y2":1400,"v":550},{"x":1120,"x2":1122,"y":1389,"y2":1395,"v":550},{"x":919,"x2":925,"y":406,"y2":412,"v":550}
],
"wedgeTIB":[
{"x":930,"y":627},{"x":904,"y":648},{"x":980,"y":648},{"x":904,"y":669},{"x":930,"y":669},{"x":1005,"y":669},{"x":1030,"y":669},{"x":1089,"y":669},{"x":1139,"y":669},{"x":904,"y":690},{"x":930,"y":711},{"x":1155,"y":711},{"x":904,"y":731.5},{"x":980,"y":731.5},{"x":1055,"y":773.5},{"x":972,"y":794.5},{"x":1047,"y":815.5},{"x":1030,"y":857.5},
{"x":909,"y":982},{"x":1009,"y":982},{"x":1043,"y":982},{"x":853,"y":1024},{"x":942,"y":1045},{"x":942,"y":1066},{"x":1109,"y":1066},{"x":1031,"y":1107.5},{"x":998,"y":1128.5},{"x":1160,"y":1191.5}
],
"wedgeRed":[
{"x":888,"y":773.5,"v":550},{"x":1121,"y":1003,"v":550},{"x":953,"y":1045,"v":550},{"x":988,"y":1066,"v":550},{"x":987,"y":1128.5,"v":550},{"x":965,"y":1170.5,"v":550},{"x":1031,"y":1170.5,"v":550}
],
"wedgeTOB":[
{"x":1717,"y":612},{"x":1916,"y":612},{"x":1922,"y":612},{"x":1928,"y":612},{"x":1936,"y":612},{"x":1710,"y":634},{"x":1737,"y":634},{"x":1744,"y":634},{"x":1790,"y":634},{"x":1935,"y":634},{"x":1969,"y":634},{"x":1710,"y":657},{"x":1935,"y":657},{"x":1829,"y":679.5},{"x":1809,"y":702},{"x":1856,"y":702},{"x":1829,"y":725},{"x":1922,"y":725},{"x":1670,"y":747},{"x":1723,"y":770},{"x":1776,"y":770},{"x":1849,"y":770},{"x":1869,"y":792},{"x":1922,"y":815},{"x":1710,"y":837},{"x":1922,"y":860},{"x":1935,"y":860},
{"x":1867,"y":946},{"x":1860,"y":968},{"x":1844,"y":991},{"x":1860,"y":991},{"x":1860,"y":1014},{"x":1912,"y":1014},{"x":1791,"y":1059},{"x":1852,"y":1059},{"x":1784,"y":1104},{"x":1852,"y":1104},{"x":1799,"y":1126},{"x":1739,"y":1149},{"x":1754,"y":1149},{"x":1868,"y":1149},{"x":1981,"y":1149},{"x":1791,"y":1171.5},{"x":1731,"y":1194},{"x":1791,"y":1194},{"x":1860,"y":1194}
],
"ticks":[
{"x":2965,"x2":3056,"y":49},{"x":2965,"x2":3056,"y":346},{"x":2965,"x2":3056,"y":640},{"x":2965,"x2":3056,"y":937},{"x":2965,"x2":3056,"y":1233},{"x":2965,"x2":3056,"y":1529},
{"x":3011,"x2":3056,"y":109},{"x":3011,"x2":3056,"y":167},{"x":3011,"x2":3056,"y":226},{"x":3011,"x2":3056,"y":286},{"x":3011,"x2":3056,"y":343},{"x":3011,"x2":3056,"y":404},{"x":3011,"x2":3056,"y":463},{"x":3011,"x2":3056,"y":523},{"x":3011,"x2":3056,"y":581},{"x":3011,"x2":3056,"y":638},{"x":3011,"x2":3056,"y":700},{"x":3011,"x2":3056,"y":760},{"x":3011,"x2":3056,"y":818},{"x":3011,"x2":3056,"y":877},{"x":3011,"x2":3056,"y":934},{"x":3011,"x2":3056,"y":996},{"x":3011,"x2":3056,"y":1055},{"x":3011,"x2":3056,"y":1114},{"x":3011,"x2":3056,"y":1173},{"x":3011,"x2":3056,"y":1229},{"x":3011,"x2":3056,"y":1292},{"x":3011,"x2":3056,"y":1351},{"x":3011,"x2":3056,"y":1410},{"x":3011,"x2":3056,"y":1469},{"x":3011,"x2":3056,"y":1523}
]
},
"encoding":{
"x":{"field":"x","type":"quantitative","scale":{"domain":[0,3196],"nice":false,"zero":false},"axis":null},
"y":{"field":"y","type":"quantitative","scale":{"domain":[0,1572],"nice":false,"zero":false,"reverse":true},"axis":null},
"color":{"field":"v","type":"quantitative","legend":null,"scale":{"domain":[139.3,242,344.65,447.3,550],"range":["#0000ff","#00ffff","#00ff00","#ffff00","#ff0000"],"interpolate":"rgb"}}
},
"layer":[
{"data":{"name":"bar"},"mark":{"type":"rect"},"encoding":{"x2":{"field":"x2"},"y2":{"field":"y2"}}},
{"data":{"name":"cells"},"mark":{"type":"rect"},"encoding":{"x2":{"field":"x2"},"y2":{"field":"y2"}}},
{"data":{"name":"stripes"},"mark":{"type":"rule","strokeWidth":20,"strokeDash":[6.5,6.5]},"encoding":{"x2":{"field":"x2"}}},

{"data":{"name":"rings"},"transform":[{"filter":{"field":"ring","equal":"R1"}}],"mark":{"type":"point","filled":true,"opacity":1,"size":4,"shape":"M0 -119A71.3 119 0 1 1 0 119A71.3 119 0 1 1 0 -119ZM0 -100A59.5 100 0 1 0 0 100A59.5 100 0 1 0 0 -100Z"}},
{"data":{"name":"rings"},"transform":[{"filter":{"field":"ring","equal":"R1"}}],"mark":{"type":"point","filled":false,"opacity":1,"size":4,"strokeWidth":20,"strokeDash":[1.7,7.6],"shape":"M0 -109.5A65.4 109.5 0 1 1 0 109.5A65.4 109.5 0 1 1 0 -109.5Z"},"encoding":{"color":{"value":"#7c9ad1"}}},
{"data":{"name":"rings"},"transform":[{"filter":{"field":"ring","equal":"R2"}}],"mark":{"type":"point","filled":true,"opacity":1,"size":4,"shape":"M0 -98A58.5 98 0 1 1 0 98A58.5 98 0 1 1 0 -98ZM0 -82A49.5 82 0 1 0 0 82A49.5 82 0 1 0 0 -82Z"}},
{"data":{"name":"rings"},"transform":[{"filter":{"field":"ring","equal":"R2"}}],"mark":{"type":"point","filled":false,"opacity":1,"size":4,"strokeWidth":18,"strokeDash":[1.7,7.9],"shape":"M0 -90A54 90 0 1 1 0 90A54 90 0 1 1 0 -90Z"},"encoding":{"color":{"value":"#7c9ad1"}}},
{"data":{"name":"rings"},"transform":[{"filter":{"field":"ring","equal":"R3"}}],"mark":{"type":"point","filled":true,"opacity":1,"size":4,"shape":"M0 -81A48.7 81 0 1 1 0 81A48.7 81 0 1 1 0 -81ZM0 -68A41 68 0 1 0 0 68A41 68 0 1 0 0 -68Z"}},
{"data":{"name":"rings"},"transform":[{"filter":{"field":"ring","equal":"R3"}}],"mark":{"type":"point","filled":false,"opacity":1,"size":4,"strokeWidth":15,"strokeDash":[1.7,7.9],"shape":"M0 -74.5A44.8 74.5 0 1 1 0 74.5A44.8 74.5 0 1 1 0 -74.5Z"},"encoding":{"color":{"value":"#7c9ad1"}}},
{"data":{"name":"rings"},"transform":[{"filter":{"field":"ring","equal":"R4"}}],"mark":{"type":"point","filled":true,"opacity":1,"size":4,"shape":"M0 -67A40 67 0 1 1 0 67A40 67 0 1 1 0 -67ZM0 -55.5A34.5 55.5 0 1 0 0 55.5A34.5 55.5 0 1 0 0 -55.5Z"}},
{"data":{"name":"rings"},"transform":[{"filter":{"field":"ring","equal":"R4"}}],"mark":{"type":"point","filled":false,"opacity":1,"size":4,"strokeWidth":13,"strokeDash":[1.3,4.7],"shape":"M0 -61.2A37.2 61.2 0 1 1 0 61.2A37.2 61.2 0 1 1 0 -61.2Z"},"encoding":{"color":{"value":"#7c9ad1"}}},
{"data":{"name":"rings"},"transform":[{"filter":{"field":"ring","equal":"R5"}}],"mark":{"type":"point","filled":true,"opacity":1,"size":4,"shape":"M0 -54.5A33.5 54.5 0 1 1 0 54.5A33.5 54.5 0 1 1 0 -54.5ZM0 -44A26.5 44 0 1 0 0 44A26.5 44 0 1 0 0 -44Z"}},
{"data":{"name":"rings"},"transform":[{"filter":{"field":"ring","equal":"R5"}}],"mark":{"type":"point","filled":false,"opacity":1,"size":4,"strokeWidth":11,"strokeDash":[1.5,5.5],"shape":"M0 -49.2A30 49.2 0 1 1 0 49.2A30 49.2 0 1 1 0 -49.2Z"},"encoding":{"color":{"value":"#7c9ad1"}}},
{"data":{"name":"rings"},"transform":[{"filter":{"field":"ring","equal":"R6"}}],"mark":{"type":"point","filled":true,"opacity":1,"size":4,"shape":"M0 -43A25.8 43 0 1 1 0 43A25.8 43 0 1 1 0 -43ZM0 -34.5A20.7 34.5 0 1 0 0 34.5A20.7 34.5 0 1 0 0 -34.5Z"}},
{"data":{"name":"rings"},"transform":[{"filter":{"field":"ring","equal":"R6"}}],"mark":{"type":"point","filled":false,"opacity":1,"size":4,"strokeWidth":10,"strokeDash":[1.5,5.5],"shape":"M0 -38.7A23.2 38.7 0 1 1 0 38.7A23.2 38.7 0 1 1 0 -38.7Z"},"encoding":{"color":{"value":"#7c9ad1"}}},
{"data":{"name":"rings"},"transform":[{"filter":{"field":"ring","equal":"R7"}}],"mark":{"type":"point","filled":true,"opacity":1,"size":4,"shape":"M0 -33A20 33 0 1 1 0 33A20 33 0 1 1 0 -33ZM0 -26A16 26 0 1 0 0 26A16 26 0 1 0 0 -26Z"}},
{"data":{"name":"rings"},"transform":[{"filter":{"field":"ring","equal":"R7"}}],"mark":{"type":"point","filled":false,"opacity":1,"size":4,"strokeWidth":8,"strokeDash":[1.5,6.1],"shape":"M0 -29.5A18 29.5 0 1 1 0 29.5A18 29.5 0 1 1 0 -29.5Z"},"encoding":{"color":{"value":"#7c9ad1"}}},
{"data":{"name":"rings"},"transform":[{"filter":{"field":"ring","equal":"S1"}}],"mark":{"type":"point","filled":true,"opacity":1,"size":4,"shape":"M0 -54.3A32.5 54.3 0 1 1 0 54.3A32.5 54.3 0 1 1 0 -54.3ZM0 -45A27.5 45 0 1 0 0 45A27.5 45 0 1 0 0 -45Z"}},
{"data":{"name":"rings"},"transform":[{"filter":{"field":"ring","equal":"S1"}}],"mark":{"type":"point","filled":false,"opacity":1,"size":4,"strokeWidth":10,"strokeDash":[1.5,6.4],"shape":"M0 -49.6A30 49.6 0 1 1 0 49.6A30 49.6 0 1 1 0 -49.6Z"},"encoding":{"color":{"value":"#7c9ad1"}}},
{"data":{"name":"rings"},"transform":[{"filter":{"field":"ring","equal":"S2"}}],"mark":{"type":"point","filled":true,"opacity":1,"size":4,"shape":"M0 -44A27 44 0 1 1 0 44A27 44 0 1 1 0 -44ZM0 -36.5A22 36.5 0 1 0 0 36.5A22 36.5 0 1 0 0 -36.5Z"}},
{"data":{"name":"rings"},"transform":[{"filter":{"field":"ring","equal":"S2"}}],"mark":{"type":"point","filled":false,"opacity":1,"size":4,"strokeWidth":9,"strokeDash":[1.5,7.1],"shape":"M0 -40.2A24.5 40.2 0 1 1 0 40.2A24.5 40.2 0 1 1 0 -40.2Z"},"encoding":{"color":{"value":"#7c9ad1"}}},
{"data":{"name":"rings"},"transform":[{"filter":{"field":"ring","equal":"S3"}}],"mark":{"type":"point","filled":true,"opacity":1,"size":4,"shape":"M0 -35.5A21.5 35.5 0 1 1 0 35.5A21.5 35.5 0 1 1 0 -35.5ZM0 -27A15.5 27 0 1 0 0 27A15.5 27 0 1 0 0 -27Z"}},
{"data":{"name":"rings"},"transform":[{"filter":{"field":"ring","equal":"S3"}}],"mark":{"type":"point","filled":false,"opacity":1,"size":4,"strokeWidth":10,"strokeDash":[1.5,6.5],"shape":"M0 -31.2A18.5 31.2 0 1 1 0 31.2A18.5 31.2 0 1 1 0 -31.2Z"},"encoding":{"color":{"value":"#7c9ad1"}}},

{"data":{"name":"whites"},"mark":{"type":"rect"},"encoding":{"x2":{"field":"x2"},"y2":{"field":"y2"},"color":{"value":"#ffffff"}}},
{"data":{"name":"reds"},"mark":{"type":"rect"},"encoding":{"x2":{"field":"x2"},"y2":{"field":"y2"}}},
{"data":{"name":"wedgeTIB"},"mark":{"type":"point","filled":true,"opacity":1,"size":4,"shape":"M-4 -9.5L2 -9.5L4.5 9.5Z"},"encoding":{"color":{"value":"#ffffff"}}},
{"data":{"name":"wedgeRed"},"mark":{"type":"point","filled":true,"opacity":1,"size":4,"shape":"M-4 -9.5L2 -9.5L4.5 9.5Z"}},
{"data":{"name":"wedgeTOB"},"mark":{"type":"point","filled":true,"opacity":1,"size":4,"shape":"M-3 -10L0.5 -10L3 8L3 10L0 10Z"},"encoding":{"color":{"value":"#ffffff"}}},

{"data":{"name":"ticks"},"mark":{"type":"rule","strokeWidth":1},"encoding":{"x2":{"field":"x2"},"color":{"value":"#000000"}}},
{"data":{"values":[{"x":3056,"y":49,"y2":1529}]},"mark":{"type":"rule","strokeWidth":2},"encoding":{"y2":{"field":"y2"},"color":{"value":"#000000"}}},
{"data":{"values":[{"x":2897,"y":262,"y2":402},{"x":2786.5,"y":925,"y2":1206}]},"mark":{"type":"rule","strokeWidth":3},"encoding":{"y2":{"field":"y2"},"color":{"value":"#000000"}}},
{"data":{"values":[{"x":2805,"x2":2897,"y":402},{"x":2462,"x2":2786.5,"y":1069}]},"mark":{"type":"rule","strokeWidth":3},"encoding":{"x2":{"field":"x2"},"color":{"value":"#000000"}}},
{"data":{"values":[{"x":2897,"y":256},{"x":2786.5,"y":920}]},"mark":{"type":"point","filled":true,"opacity":1,"size":4,"shape":"M0 -12.5L14.5 12.5L-14.5 12.5Z"},"encoding":{"color":{"value":"#000000"}}},
{"data":{"values":[{"x":2797.5,"y":402},{"x":2455.5,"y":1069}]},"mark":{"type":"point","filled":true,"opacity":1,"size":4,"shape":"M-12.5 0L12.5 -14.5L12.5 14.5Z"},"encoding":{"color":{"value":"#000000"}}},

{"data":{"values":[{"x":1514,"y":78,"t":"Depletion Voltage 1000/fb 25"}]},"mark":{"type":"text","align":"left","baseline":"middle","font":"Liberation Sans","fontWeight":"bold","fontSize":58},"encoding":{"text":{"field":"t"},"color":{"value":"#000000"}}},
{"data":{"values":[{"x":899,"y":573,"t":"TIB L2"},{"x":1298,"y":573,"t":"TIB L4"},{"x":1698,"y":573,"t":"TOB L2"},{"x":2097,"y":573,"t":"TOB L4"},{"x":2497,"y":573,"t":"TOB L6"},{"x":899,"y":1229,"t":"TIB L1"},{"x":1298,"y":1229,"t":"TIB L3"},{"x":1698,"y":1229,"t":"TOB L1"},{"x":2097,"y":1229,"t":"TOB L3"},{"x":2497,"y":1229,"t":"TOB L5"},{"x":499,"y":149,"t":"+z"},{"x":499,"y":1504,"t":"-z"}]},"mark":{"type":"text","align":"left","baseline":"middle","font":"Liberation Sans","fontWeight":"bold","fontSize":57},"encoding":{"text":{"field":"t"},"color":{"value":"#000000"}}},
{"data":{"values":[{"x":3073,"y":49,"t":"550"},{"x":3073,"y":346,"t":"467.86"},{"x":3073,"y":640,"t":"385.72"},{"x":3073,"y":937,"t":"303.58"},{"x":3073,"y":1233,"t":"221.44"},{"x":3073,"y":1529,"t":"139.3"}]},"mark":{"type":"text","align":"left","baseline":"middle","font":"Liberation Sans","fontWeight":"bold","fontSize":28},"encoding":{"text":{"field":"t"},"color":{"value":"#000000"}}},
{"data":{"values":[{"x":2927,"y":226,"t":"x"},{"x":2801,"y":368,"t":"y"},{"x":2829,"y":899,"t":"z"}]},"mark":{"type":"text","align":"center","baseline":"middle","font":"Liberation Sans","fontWeight":"bold","fontSize":60},"encoding":{"text":{"field":"t"},"color":{"value":"#000000"}}},
{"data":{"values":[{"x":2451,"y":1042,"t":"Φ"}]},"mark":{"type":"text","align":"center","baseline":"middle","font":"Liberation Serif","fontSize":50},"encoding":{"text":{"field":"t"},"color":{"value":"#000000"}}}
]}
